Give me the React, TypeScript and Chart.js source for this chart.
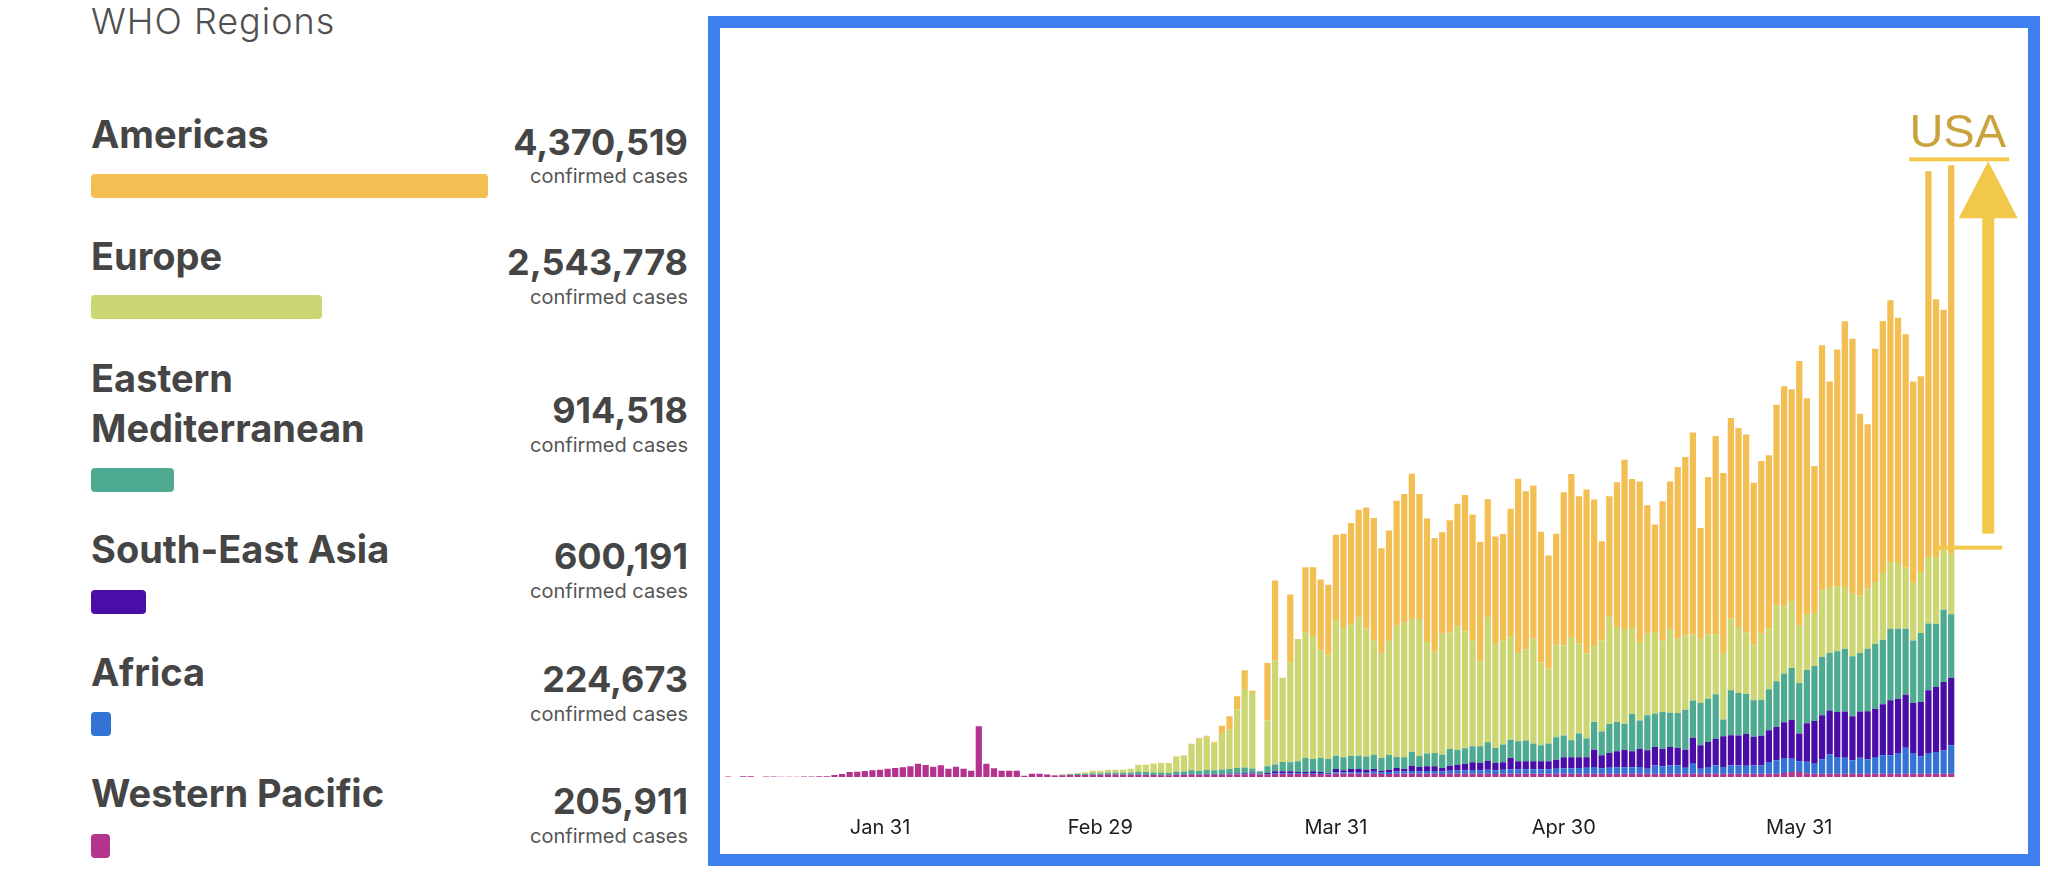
import React, { useEffect, useRef } from "react";
import { Chart, registerables } from "chart.js";

Chart.register(...registerables);

// ---------- categories (one bar per day, Jan 11 – Jun 20, 2020) ----------
const monthNames = ["Jan", "Feb", "Mar", "Apr", "May", "Jun"];
const monthLengths = [31, 29, 31, 30, 31, 30];
const firstDay = 11;
const dayCount = 162;
function buildDates(): string[] {
  const out: string[] = [];
  let m = 0;
  let d = firstDay;
  while (out.length < dayCount) {
    out.push(`${monthNames[m]} ${d}`);
    d += 1;
    if (d > monthLengths[m]) {
      d = 1;
      m += 1;
    }
  }
  return out;
}
const dates = buildDates();
const tickLabels = ["Jan 31", "Feb 29", "Mar 31", "Apr 30", "May 31"];

// ---------- regions ----------
const regionNames = ["Americas", "Europe", "Eastern Mediterranean", "South-East Asia", "Africa", "Western Pacific"];
const regionTotals = [4370519, 2543778, 914518, 600191, 224673, 205911];
const regionColors = ["#F3BE52", "#CCD672", "#4EAA90", "#4A0DA8", "#3273D3", "#B4338E"];

// ---------- daily new confirmed cases per region ----------
const westernPacific = [
  120, 0, 210, 210, 0, 150, 150, 90, 90, 90,
  120, 150, 210, 240, 600, 900, 1500, 1590, 1800, 2010,
  2190, 2490, 2700, 2910, 3210, 3990, 3600, 3090, 3510, 2490,
  3090, 2490, 1890, 15210, 3990, 2610, 1890, 1890, 1890, 390,
  990, 990, 750, 450, 510, 600, 600, 600, 660, 660,
  750, 690, 660, 660, 660, 600, 600, 540, 540, 600,
  600, 690, 660, 690, 690, 690, 750, 750, 810, 900,
  750, 750, 900, 900, 900, 900, 900, 900, 900, 750,
  990, 1000, 980, 1010, 990, 1000, 900, 900, 990, 1000,
  990, 1010, 990, 1000, 900, 990, 1000, 990, 1000, 990,
  1000, 900, 990, 1000, 990, 1010, 990, 1000, 990, 1000,
  990, 1000, 990, 1010, 990, 1000, 990, 1000, 990, 1000,
  990, 1000, 990, 1000, 990, 1000, 1000, 990, 1000, 990,
  1000, 990, 1000, 990, 1000, 1000, 990, 1000, 1000, 1200,
  1500, 1500, 1100, 1000, 1000, 990, 1000, 990, 1000, 990,
  1000, 990, 1000, 1000, 990, 1000, 990, 1000, 990, 1000,
  990, 1000,
];
const africa = [
  0, 0, 0, 0, 0, 0, 0, 0, 0, 0,
  0, 0, 0, 0, 0, 0, 0, 0, 0, 0,
  0, 0, 0, 0, 0, 0, 0, 0, 0, 0,
  0, 0, 0, 0, 0, 0, 0, 0, 0, 0,
  0, 0, 0, 0, 0, 0, 0, 0, 0, 0,
  0, 0, 0, 0, 0, 0, 0, 0, 0, 0,
  30, 60, 60, 90, 90, 90, 120, 120, 150, 180,
  90, 150, 210, 210, 240, 240, 270, 270, 300, 240,
  450, 420, 480, 510, 540, 600, 510, 600, 660, 660,
  780, 750, 780, 810, 750, 900, 960, 990, 1080, 1050,
  1200, 1140, 1200, 1350, 1260, 1290, 1320, 1350, 1350, 1500,
  1650, 1620, 1680, 1740, 2010, 1650, 1800, 1860, 1950, 1890,
  2010, 1500, 2490, 2190, 2490, 2490, 1800, 3000, 1500, 2010,
  2490, 2010, 2490, 2490, 2400, 2550, 2460, 3510, 3990, 4500,
  3990, 3210, 3510, 3000, 4290, 5790, 5010, 4800, 3990, 4800,
  4290, 5010, 5490, 5490, 6210, 7800, 6210, 5190, 6210, 6510,
  6990, 8490,
];
const southEastAsia = [
  0, 0, 0, 0, 0, 0, 0, 0, 0, 0,
  0, 0, 0, 0, 0, 0, 0, 0, 0, 0,
  0, 0, 0, 0, 0, 0, 0, 0, 0, 0,
  0, 0, 0, 0, 0, 0, 0, 0, 0, 0,
  0, 0, 0, 0, 0, 0, 0, 0, 0, 0,
  60, 60, 0, 0, 60, 30, 30, 30, 30, 60,
  60, 90, 90, 120, 120, 150, 180, 210, 210, 300,
  120, 300, 600, 600, 570, 360, 330, 540, 300, 210,
  960, 600, 930, 900, 660, 810, 480, 690, 1050, 750,
  1620, 1260, 1440, 1410, 1050, 1500, 1740, 1920, 2340, 2160,
  2700, 2160, 2220, 3360, 2460, 2430, 2400, 2370, 2370, 2700,
  3270, 3300, 3240, 3180, 5190, 3870, 4410, 4860, 5250, 4830,
  5490, 5490, 5490, 5310, 5490, 5310, 5400, 7800, 6990, 7500,
  8010, 9210, 9000, 9000, 9510, 8490, 8910, 9510, 9990, 10710,
  11700, 8310, 11490, 12810, 13200, 13200, 13500, 13890, 13200, 13890,
  14400, 14490, 15300, 16500, 16290, 15900, 15090, 16290, 18810, 19500,
  20490, 20310,
];
const easternMediterranean = [
  0, 0, 0, 0, 0, 0, 0, 0, 0, 0,
  0, 0, 0, 0, 0, 0, 0, 0, 0, 0,
  0, 0, 0, 0, 0, 0, 0, 0, 0, 0,
  0, 0, 0, 0, 0, 0, 0, 0, 0, 0,
  0, 0, 0, 90, 150, 210, 300, 360, 450, 450,
  540, 510, 600, 660, 840, 840, 750, 750, 660, 990,
  990, 1200, 1050, 1200, 1140, 1350, 1350, 1590, 1650, 1200,
  750, 2010, 2010, 2790, 2700, 3210, 4200, 3690, 4200, 4200,
  3990, 3900, 3990, 3990, 3990, 4290, 3810, 4410, 3300, 3510,
  4200, 3390, 3810, 3990, 3990, 5010, 4500, 4710, 4800, 5010,
  5490, 4500, 5310, 5490, 6000, 6210, 5310, 4800, 5310, 6690,
  6510, 5100, 7110, 5610, 8310, 7110, 8700, 8790, 7800, 11190,
  8490, 10500, 9990, 11010, 10290, 10410, 12000, 11190, 12690, 12990,
  13290, 5010, 13500, 12810, 12000, 11010, 10800, 12300, 13710, 14610,
  15510, 15210, 15990, 16500, 17490, 17190, 18210, 18810, 18000, 17490,
  18810, 19500, 19410, 21510, 21000, 19800, 18690, 20700, 20010, 18990,
  21690, 18990,
];
const europe = [
  0, 0, 0, 0, 0, 0, 0, 0, 0, 0,
  0, 0, 0, 0, 0, 0, 0, 0, 0, 0,
  0, 0, 0, 0, 0, 0, 0, 0, 0, 0,
  0, 0, 0, 0, 0, 0, 0, 0, 0, 0,
  0, 0, 0, 60, 150, 180, 300, 450, 690, 720,
  840, 930, 930, 1110, 2070, 2190, 2580, 2850, 2940, 4440,
  4710, 7800, 9600, 9990, 8250, 10920, 11820, 17550, 23580, 22620,
  0, 13710, 31290, 25290, 30000, 36690, 37800, 36810, 32310, 31290,
  40500, 38790, 39300, 41490, 38400, 34200, 31500, 34290, 39600, 40500,
  39810, 41010, 33510, 30390, 36510, 35010, 36990, 35100, 31800, 25500,
  37590, 31290, 31200, 30990, 26490, 27300, 31500, 24810, 22500, 27810,
  27090, 30990, 27000, 25500, 22710, 27300, 32310, 28500, 28410, 25800,
  23490, 24510, 24510, 21510, 24900, 22290, 22290, 19800, 19290, 19290,
  18000, 20010, 21510, 19710, 18510, 16800, 19800, 18210, 22800, 20190,
  20100, 17310, 16800, 15900, 20010, 19800, 19500, 18510, 18990, 17310,
  18000, 18510, 20010, 20010, 19710, 18300, 17310, 18300, 20010, 20010,
  18300, 18210,
];
const americas = [
  0, 0, 0, 0, 0, 0, 0, 0, 0, 0,
  0, 0, 0, 0, 0, 0, 0, 0, 0, 0,
  0, 0, 0, 0, 0, 0, 0, 0, 0, 0,
  0, 0, 0, 0, 0, 0, 0, 0, 0, 0,
  0, 0, 0, 0, 0, 0, 0, 0, 90, 60,
  0, 0, 0, 60, 60, 60, 60, 60, 60, 120,
  120, 150, 240, 300, 300, 2190, 3990, 3990, 5610, 690,
  0, 17310, 23910, 0, 20310, 0, 19410, 20700, 21210, 21000,
  25800, 28290, 30510, 32310, 36300, 36810, 31410, 33090, 37290, 38490,
  43590, 37500, 36990, 34110, 30210, 33600, 36810, 40890, 37710, 35790,
  35310, 32190, 32010, 38310, 52290, 47490, 45900, 39210, 33900, 33300,
  45900, 48900, 44190, 49200, 44010, 29790, 36000, 43410, 50790, 44700,
  48210, 38490, 32310, 41700, 44490, 51510, 53490, 60600, 33210, 47190,
  59490, 54000, 60210, 59700, 59310, 48390, 51810, 51990, 60210, 66000,
  63510, 79290, 64710, 44100, 73500, 61710, 71010, 79710, 76290, 54510,
  49290, 69990, 75600, 78510, 73590, 69990, 60390, 58710, 115710, 77310,
  71700, 116490,
];
const yMax = 224700;

// stack order, bottom to top
const stackSeries = [westernPacific, africa, southEastAsia, easternMediterranean, europe, americas];
const stackRegionIndex = [5, 4, 3, 2, 1, 0];

// ---------- layout (page coordinates) ----------
const FONT = "Inter, 'Noto Sans', Roboto, sans-serif";
const nameLines = [["Americas"], ["Europe"], ["Eastern", "Mediterranean"], ["South-East Asia"], ["Africa"], ["Western Pacific"]];
const nameBaselines = [[148], [270], [392, 442], [563], [686], [807]];
const numberBaselines = [155, 275, 423, 569, 692, 814];
const casesBaselines = [183, 304, 452, 598, 721, 843];
const swatchTops = [174, 295, 468, 590, 712, 834];
const swatchMaxWidth = 397;

const xLabelPlugin = {
  id: "xLabels",
  afterDraw(chart: any) {
    const { ctx } = chart;
    const xs = chart.scales.x;
    const bottom = chart.chartArea.bottom;
    ctx.save();
    ctx.fillStyle = "#1c1c1c";
    ctx.font = `20px ${FONT}`;
    ctx.textAlign = "center";
    ctx.textBaseline = "alphabetic";
    tickLabels.forEach((lab) => {
      const i = dates.indexOf(lab);
      if (i >= 0) ctx.fillText(lab, xs.getPixelForValue(i), bottom + 57);
    });
    ctx.restore();
  },
};

const usaPlugin = {
  id: "usaArrow",
  afterDatasetsDraw(chart: any) {
    const { ctx } = chart;
    const xs = chart.scales.x;
    const ys = chart.scales.y;
    const last = dayCount - 1;
    const lastX = xs.getPixelForValue(last);
    let peak = 0;
    for (let i = 0; i < dayCount; i++) {
      const t = stackSeries.reduce((s, arr) => s + arr[i], 0);
      if (t > peak) peak = t;
    }
    const baseVal = stackSeries.slice(0, 5).reduce((s, arr) => s + arr[last], 0);
    const topY = ys.getPixelForValue(peak) - 6;
    const lowY = ys.getPixelForValue(baseVal) - 6;
    const cx = lastX + 37;
    ctx.save();
    ctx.fillStyle = "#F2C84B";
    ctx.fillRect(lastX - 42, topY - 2, 100, 4);
    ctx.fillRect(lastX - 16, lowY - 2, 67, 4);
    ctx.beginPath();
    ctx.moveTo(cx, topY + 2);
    ctx.lineTo(cx + 29.5, topY + 59);
    ctx.lineTo(cx - 29.5, topY + 59);
    ctx.closePath();
    ctx.fill();
    ctx.fillRect(cx - 6, topY + 58, 12, lowY - 14 - (topY + 58));
    ctx.fillStyle = "#C9A23C";
    ctx.font = "47px 'Liberation Sans', Arial, sans-serif";
    ctx.textAlign = "center";
    ctx.textBaseline = "alphabetic";
    ctx.fillText("USA", lastX + 6.5, topY - 12);
    ctx.restore();
  },
};

function BarChart() {
  const ref = useRef<HTMLCanvasElement | null>(null);
  useEffect(() => {
    if (!ref.current) return;
    const chart = new Chart(ref.current, {
      type: "bar",
      data: {
        labels: dates,
        datasets: stackSeries.map((arr, k) => ({
          label: regionNames[stackRegionIndex[k]],
          data: arr,
          backgroundColor: regionColors[stackRegionIndex[k]],
          borderWidth: 0,
          categoryPercentage: 1,
          barPercentage: 0.82,
        })),
      },
      options: {
        animation: false,
        responsive: true,
        maintainAspectRatio: false,
        layout: { padding: { left: 4.3, right: 73, top: 0, bottom: 77 } },
        plugins: { legend: { display: false }, tooltip: { enabled: false } },
        scales: {
          x: {
            stacked: true,
            grid: { display: false, drawTicks: false },
            border: { display: false },
            ticks: { display: false },
          },
          y: { stacked: true, display: false, min: 0, max: yMax },
        },
      },
      plugins: [usaPlugin, xLabelPlugin],
    });
    return () => chart.destroy();
  }, []);
  return <canvas ref={ref} />;
}

function textTop(baseline: number, size: number) {
  return baseline - size * 0.8637;
}

export default function App() {
  const maxTotal = Math.max(...regionTotals);
  return (
    <div style={{ position: "fixed", left: 0, top: 0, width: 2048, height: 875, background: "#fff", fontFamily: FONT, overflow: "hidden" }}>
      <div style={{ position: "absolute", left: 91, top: textTop(34, 36), fontSize: 36, lineHeight: "36px", fontWeight: 300, letterSpacing: "1px", color: "#505050", whiteSpace: "nowrap" }}>
        WHO Regions
      </div>
      {regionNames.map((name, i) => (
        <React.Fragment key={name}>
          {nameLines[i].map((line, j) => (
            <div key={line} style={{ position: "absolute", left: 91, top: textTop(nameBaselines[i][j], 38), fontSize: 38, lineHeight: "38px", fontWeight: 700, color: "#454545", whiteSpace: "nowrap" }}>
              {line}
            </div>
          ))}
          <div style={{ position: "absolute", left: 91, top: swatchTops[i], width: (regionTotals[i] / maxTotal) * swatchMaxWidth, height: 24, borderRadius: 4, background: regionColors[i] }} />
          <div style={{ position: "absolute", right: 2048 - 688, top: textTop(numberBaselines[i], 36), fontSize: 36, lineHeight: "36px", fontWeight: 700, color: "#454545", whiteSpace: "nowrap", textAlign: "right" }}>
            {regionTotals[i].toLocaleString("en-US")}
          </div>
          <div style={{ position: "absolute", right: 2048 - 688, top: textTop(casesBaselines[i], 20), fontSize: 20, lineHeight: "20px", fontWeight: 400, color: "#555", whiteSpace: "nowrap", textAlign: "right" }}>
            confirmed cases
          </div>
        </React.Fragment>
      ))}
      <div style={{ position: "absolute", left: 708, top: 16, width: 1332, height: 850, boxSizing: "border-box", border: "12px solid #3E80EF", background: "#fff" }}>
        <div style={{ position: "absolute", left: 0, top: 0, width: 1308, height: 826 }}>
          <BarChart />
        </div>
      </div>
    </div>
  );
}
